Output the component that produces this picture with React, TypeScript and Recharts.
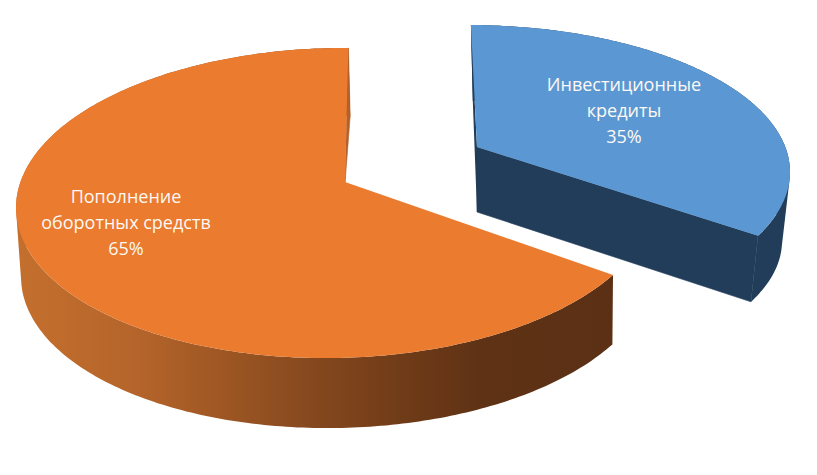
import { Pie, PieChart } from 'recharts';

const categories = ['Инвестиционные кредиты', 'Пополнение оборотных средств'];
const shares = [35, 65];
const labelLines = [
  ['Инвестиционные', 'кредиты', '35%'],
  ['Пополнение', 'оборотных средств', '65%'],
];

const chartData = categories.map((name, i) => ({ name, value: shares[i], idx: i }));

// projected geometry of each slice: top and bottom ellipses, the tip of the wedge
const slices = [
  {
    top: { cx: 468, cy: 172, rx: 322, ry: 147, tilt: 0 },
    bottom: { cx: 470, cy: 241, rx: 312, ry: 140, tilt: 0 },
    tip: [477, 147],
    tipLow: [477, 212],
    rotate: -0.2,
    face: '#5b98d3',
    wall: '#213d59',
    cut: '#213d59',
    showStart: true,
    label: [624, 91],
  },
  {
    top: { cx: 335, cy: 203, rx: 319, ry: 155, tilt: 0.015 },
    bottom: { cx: 337, cy: 272, rx: 316, ry: 156, tilt: 0.015 },
    tip: [345, 182],
    tipLow: [342, 222],
    rotate: -2.2,
    face: '#ea7b2f',
    wall: 'url(#orangeWall)',
    cut: '#b3602a',
    showStart: false,
    label: [126, 203],
  },
];

// pie angles are true angles, so cast a ray from the tip to find the ellipse parameter
function castToEllipse(slice: any, deg: number) {
  const { top, tip } = slice;
  const px = (tip[0] - top.cx) / top.rx;
  const py = (top.cy - tip[1]) / top.ry;
  const a = (deg * Math.PI) / 180;
  const dx = Math.cos(a);
  const dy = Math.sin(a);
  const b = px * dx + py * dy;
  const s = -b + Math.sqrt(b * b - (px * px + py * py - 1));
  return Math.atan2(py + s * dy, px + s * dx);
}

const onEllipse = (e: any, t: number) => {
  const x = e.rx * Math.cos(t);
  return [e.cx + x, e.cy - e.ry * Math.sin(t) - e.tilt * x];
};
const toPath = (pts: number[][]) =>
  'M' + pts.map((p) => `${p[0].toFixed(1)},${p[1].toFixed(1)}`).join('L') + 'Z';

// same winding on every quad, so that the wall fills as one union
function quadPath(a: number[], b: number[], c: number[], d: number[]) {
  const pts = [a, b, c, d];
  let area = 0;
  pts.forEach((p, i) => {
    const q = pts[(i + 1) % 4];
    area += p[0] * q[1] - q[0] * p[1];
  });
  return toPath(area < 0 ? [...pts].reverse() : pts);
}

function Slice3D(props: any) {
  const slice = slices[props.idx ?? props.payload?.idx];
  const t0 = castToEllipse(slice, props.startAngle + slice.rotate);
  let t1 = castToEllipse(slice, props.endAngle + slice.rotate);
  while (t1 > t0) t1 -= Math.PI * 2;

  const steps = 240;
  const arc: number[] = [];
  for (let i = 0; i <= steps; i++) arc.push(t0 + ((t1 - t0) * i) / steps);
  const topArc = arc.map((t) => onEllipse(slice.top, t));
  const lowArc = arc.map((t) => onEllipse(slice.bottom, t));

  const wall = arc
    .slice(1)
    .map((_, i) => quadPath(topArc[i], topArc[i + 1], lowArc[i + 1], lowArc[i]))
    .join('');
  const startFace = [slice.tip, topArc[0], lowArc[0], slice.tipLow];
  const endFace = [slice.tip, topArc[steps], lowArc[steps], slice.tipLow];

  return (
    <g>
      <path d={wall} fill={slice.wall} />
      {slice.showStart && <path d={toPath(startFace)} fill={slice.cut} />}
      <path d={toPath(endFace)} fill={slice.cut} stroke={slice.cut} strokeWidth={0.6} />
      <path d={toPath([slice.tip, ...topArc])} fill={slice.face} />
    </g>
  );
}

function SliceLabel(props: any) {
  const i = props.idx ?? props.payload?.idx;
  const [x, y] = slices[i].label;
  return (
    <text x={x} y={y} textAnchor="middle" fill="#fdf8f2" fontSize={18} fontFamily="Open Sans">
      {labelLines[i].map((line, n) => (
        <tspan key={line} x={x} y={y + n * 26}>
          {line}
        </tspan>
      ))}
    </text>
  );
}

export default function App() {
  return (
    <div style={{ position: 'absolute', left: 0, top: 0, background: '#fff' }}>
      <PieChart width={817} height={475} margin={{ top: 0, right: 0, bottom: 0, left: 0 }}>
        <defs>
          <linearGradient id="orangeWall" gradientUnits="userSpaceOnUse" x1="16" y1="0" x2="612" y2="0">
            <stop offset="0" stopColor="#c46f2d" />
            <stop offset="0.2" stopColor="#b5652b" />
            <stop offset="0.31" stopColor="#a45a25" />
            <stop offset="0.48" stopColor="#884a1f" />
            <stop offset="0.64" stopColor="#713c18" />
            <stop offset="0.78" stopColor="#5f3215" />
            <stop offset="1" stopColor="#5b3014" />
          </linearGradient>
        </defs>
        <Pie
          data={chartData}
          dataKey="value"
          nameKey="name"
          cx={400}
          cy={230}
          outerRadius={200}
          startAngle={91.5}
          endAngle={-268.5}
          stroke="none"
          isAnimationActive={false}
          shape={Slice3D}
          label={SliceLabel}
          labelLine={false}
        />
      </PieChart>
    </div>
  );
}
